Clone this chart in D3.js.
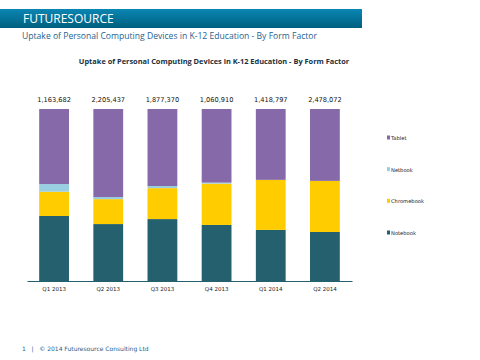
<!DOCTYPE html>
<html><head><meta charset="utf-8">
<script src="https://cdn.jsdelivr.net/npm/d3@7"></script>
<style>body{margin:0;background:#fff}svg{display:block}</style>
</head><body>
<svg id="c" width="480" height="360"></svg>
<script>
const categories = ["Q1 2013","Q2 2013","Q3 2013","Q4 2013","Q1 2014","Q2 2014"];
const totals = ["1,163,682","2,205,437","1,877,370","1,060,910","1,418,797","2,478,072"];
const seriesNames = ["Notebook","Chromebook","Netbook","Tablet"];
const notebook   = [37.8, 33.1, 36.0, 32.6, 29.7, 28.5];
const chromebook = [14.1, 14.5, 18.0, 24.0, 29.1, 29.7];
const netbook    = [4.5, 1.2, 1.2, 0.6, 0.0, 0.0];
const tablet     = [43.6, 51.2, 44.8, 42.8, 41.2, 41.8];
const colors = {Notebook:"#24606e",Chromebook:"#ffcc00",Netbook:"#99cfe0",Tablet:"#8669a8"};

const svg = d3.select("#c");
const defs = svg.append("defs");
const g = defs.append("linearGradient").attr("id","hdr").attr("x1",0).attr("x2",0).attr("y1",0).attr("y2",1);
g.append("stop").attr("offset","0%").attr("stop-color","#0a86b3");
g.append("stop").attr("offset","100%").attr("stop-color","#005f7f");
svg.append("rect").attr("x",0).attr("y",9).attr("width",362).attr("height",19).attr("fill","url(#hdr)");
svg.append("text").attr("x",23).attr("y",23).attr("fill","#fff").attr("font-family","Open Sans, sans-serif").attr("font-size",12).text("FUTURESOURCE");
svg.append("text").attr("x",22).attr("y",39).attr("fill","#1f5f8f").attr("font-family","Open Sans, sans-serif").attr("font-size",8.6).text("Uptake of Personal Computing  Devices in K-12 Education - By Form Factor");
svg.append("text").attr("x",214).attr("y",64).attr("text-anchor","middle").attr("fill","#1a3040").attr("font-weight","bold").attr("font-family","Open Sans, sans-serif").attr("font-size",7.4).text("Uptake of Personal Computing Devices in K-12 Education - By Form Factor");

const rows = categories.map((c,i)=>({cat:c,Notebook:notebook[i],Chromebook:chromebook[i],Netbook:netbook[i],Tablet:tablet[i]}));
rows.forEach(r=>{const s=seriesNames.reduce((a,k)=>a+r[k],0);seriesNames.forEach(k=>r[k]=r[k]/s);});
const stack = d3.stack().keys(seriesNames)(rows);

const x = d3.scaleBand().domain(categories).range([27,352]).paddingInner(0.45).paddingOuter(0.225);
const y = d3.scaleLinear().domain([0,1]).range([281,109]);

svg.append("g").selectAll("g").data(stack).join("g").attr("fill",d=>colors[d.key])
  .selectAll("rect").data(d=>d).join("rect")
  .attr("x",d=>x(d.data.cat)).attr("width",x.bandwidth())
  .attr("y",d=>y(d[1])).attr("height",d=>y(d[0])-y(d[1]));

const ax = svg.append("g").attr("transform","translate(0,281)").call(d3.axisBottom(x).tickSize(0).tickPadding(6));
ax.select(".domain").attr("stroke","#24606e").attr("stroke-width",1.2);
ax.selectAll("text").attr("font-family","DejaVu Sans, sans-serif").attr("font-size",5.5).attr("fill","#222");

svg.append("g").selectAll("text").data(categories).join("text")
  .attr("x",d=>x(d)+x.bandwidth()/2).attr("y",102).attr("text-anchor","middle")
  .attr("font-family","DejaVu Sans, sans-serif").attr("font-size",6.6).attr("fill","#111")
  .text((d,i)=>totals[i]);

const legendItems = ["Tablet","Netbook","Chromebook","Notebook"];
const ly = d3.scalePoint().domain(legendItems).range([138,233]);
const lg = svg.append("g").selectAll("g").data(legendItems).join("g").attr("transform",d=>`translate(387,${ly(d)})`);
lg.append("rect").attr("x",0).attr("y",-2.5).attr("width",3).attr("height",4).attr("fill",d=>colors[d]);
lg.append("text").attr("x",4).attr("y",2).attr("font-family","DejaVu Sans, sans-serif").attr("font-size",5.2).attr("fill","#222").text(d=>d);

svg.append("text").attr("x",22).attr("y",351).attr("fill","#1f5f8f").attr("font-family","DejaVu Sans, sans-serif").attr("font-size",6).attr("xml:space","preserve").text("1   |   © 2014 Futuresource Consulting Ltd");
</script>
</body></html>
